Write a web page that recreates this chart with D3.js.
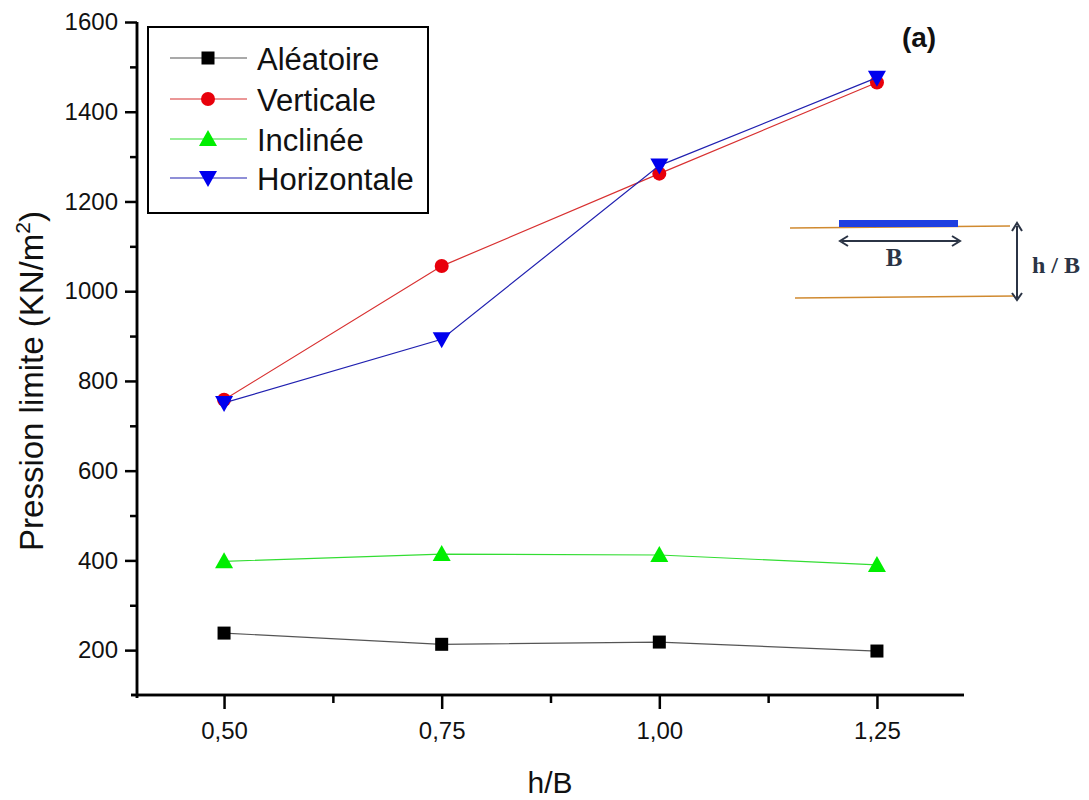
<!DOCTYPE html>
<html><head><meta charset="utf-8">
<script src="https://cdn.jsdelivr.net/npm/d3@7"></script>
<style>body{margin:0;background:#fff}svg{display:block}</style>
</head><body><svg id="c" width="1089" height="800" font-family="Liberation Sans, Arial, sans-serif"></svg>
<script>
const xValues = [0.50, 0.75, 1.00, 1.25];
const xTickLabels = ["0,50", "0,75", "1,00", "1,25"];
const yTicks = [200, 400, 600, 800, 1000, 1200, 1400, 1600];
const seriesNames = ["Aléatoire", "Verticale", "Inclinée", "Horizontale"];
const aleatoire = [238, 213, 218, 198];
const verticale = [758, 1056, 1262, 1465];
const inclinee = [398, 414, 412, 390];
const horizontale = [751, 893, 1280, 1476];

const SANS = "Liberation Sans, Arial, sans-serif";
const SERIF = "Liberation Serif, Times New Roman, serif";

const series = [
  {name: seriesNames[0], values: aleatoire, color: "#000", line: "#555", shape: "square"},
  {name: seriesNames[1], values: verticale, color: "#e8000b", line: "#d83030", shape: "circle"},
  {name: seriesNames[2], values: inclinee, color: "#00ee00", line: "#33dd33", shape: "up"},
  {name: seriesNames[3], values: horizontale, color: "#0000ee", line: "#2020b0", shape: "down"}
];

const svg = d3.select("#c");
const x = d3.scaleLinear().domain([0.4, 1.35]).range([137, 964]);
const y = d3.scaleLinear().domain([100, 1600]).range([695, 22]);

// axes
const gx = svg.append("g").attr("transform", "translate(0,695)");
gx.call(d3.axisBottom(x).tickValues([0.625, 0.875, 1.125]).tickSize(8).tickFormat(""));
gx.call(g => g.append("g").call(d3.axisBottom(x).tickValues(xValues).tickSize(14).tickPadding(13).tickFormat((d,i)=>xTickLabels[i])));
gx.selectAll(".domain").attr("d", "M131,0H964");
gx.selectAll("line,path").attr("stroke", "#000").attr("stroke-width", 2.5);
gx.selectAll("g").attr("font-family", SANS);
gx.selectAll("text").attr("font-size", 24).attr("fill", "#111");

const gy = svg.append("g").attr("transform", "translate(137,0)");
gy.call(d3.axisLeft(y).tickValues([300,500,700,900,1100,1300,1500]).tickSize(7).tickFormat(""));
gy.call(g => g.append("g").call(d3.axisLeft(y).tickValues(yTicks).tickSize(12).tickPadding(7).tickFormat(d3.format("d"))));
gy.selectAll(".domain").attr("d", "M0,22V698");
gy.selectAll("line,path").attr("stroke", "#000").attr("stroke-width", 2.5);
gy.selectAll("g").attr("font-family", SANS);
gy.selectAll("text").attr("font-size", 24).attr("fill", "#111");

// axis titles
svg.append("text").attr("transform", "translate(43,381) rotate(-90)").attr("text-anchor", "middle")
  .attr("font-size", 33).attr("fill", "#111").attr("font-family", SANS)
  .html('Pression limite (KN/m<tspan dy="-13" font-size="21">2</tspan><tspan dy="13">)</tspan>');
svg.append("text").attr("x", 550).attr("y", 793).attr("text-anchor", "middle").attr("font-size", 30).attr("fill", "#111").attr("font-family", SANS).text("h/B");
svg.append("text").attr("x", 919).attr("y", 47).attr("text-anchor", "middle").attr("font-size", 28).attr("font-weight", "bold").attr("fill", "#111").attr("font-family", SANS).text("(a)");

function marker(sel, shape, color) {
  if (shape === "square") sel.append("rect").attr("x", -6.5).attr("y", -6.5).attr("width", 13).attr("height", 13).attr("fill", color);
  else if (shape === "circle") sel.append("circle").attr("r", 7).attr("fill", color);
  else if (shape === "up") sel.append("path").attr("d", "M0,-9L9,7L-9,7Z").attr("fill", color);
  else sel.append("path").attr("d", "M0,9L9,-7L-9,-7Z").attr("fill", color);
}

const line = d3.line().x((d,i)=>x(xValues[i])).y(d=>y(d));
series.forEach(s => {
  svg.append("path").attr("d", line(s.values)).attr("fill", "none").attr("stroke", s.line).attr("stroke-width", 1.2);
  s.values.forEach((v,i) => {
    const g = svg.append("g").attr("transform", `translate(${x(xValues[i])},${y(v)})`);
    marker(g, s.shape, s.color);
  });
});

// legend
const lg = svg.append("g");
lg.append("rect").attr("x", 148).attr("y", 27).attr("width", 280).attr("height", 186).attr("fill", "#fff").attr("stroke", "#000").attr("stroke-width", 2);
const rows = [58, 99, 139, 178];
series.forEach((s,i) => {
  lg.append("line").attr("x1", 170).attr("x2", 247).attr("y1", rows[i]).attr("y2", rows[i]).attr("stroke", s.line).attr("stroke-width", 1.2);
  const g = lg.append("g").attr("transform", `translate(208,${rows[i]})`);
  marker(g, s.shape, s.color);
  lg.append("text").attr("x", 257).attr("y", rows[i] + 12).attr("font-size", 31).attr("fill", "#111").attr("font-family", SANS).text(s.name);
});

// inset schematic
const ins = svg.append("g");
ins.append("line").attr("x1", 790).attr("y1", 228).attr("x2", 1010).attr("y2", 226).attr("stroke", "#d08a30").attr("stroke-width", 1.5);
ins.append("line").attr("x1", 795).attr("y1", 298).attr("x2", 1015).attr("y2", 296).attr("stroke", "#d08a30").attr("stroke-width", 1.5);
ins.append("rect").attr("x", 839).attr("y", 220).attr("width", 119).attr("height", 7).attr("fill", "#1f3fe0");
const dark = "#2b3445";
ins.append("line").attr("x1", 842).attr("y1", 241).attr("x2", 958).attr("y2", 241).attr("stroke", dark).attr("stroke-width", 2);
ins.append("path").attr("d", "M848,236L840,241L848,246M952,236L960,241L952,246").attr("fill", "none").attr("stroke", dark).attr("stroke-width", 2);
ins.append("line").attr("x1", 1017).attr("y1", 226).attr("x2", 1017).attr("y2", 298).attr("stroke", dark).attr("stroke-width", 2);
ins.append("path").attr("d", "M1012,231L1017,223L1022,231M1012,293L1017,300L1022,293").attr("fill", "none").attr("stroke", dark).attr("stroke-width", 2);
ins.append("text").attr("x", 894).attr("y", 266).attr("text-anchor", "middle").attr("font-family", SERIF).attr("font-weight", "bold").attr("font-size", 25).attr("fill", dark).text("B");
ins.append("text").attr("x", 1056).attr("y", 273).attr("text-anchor", "middle").attr("font-family", SERIF).attr("font-weight", "bold").attr("font-size", 24).attr("fill", dark).text("h / B");
</script></body></html>
